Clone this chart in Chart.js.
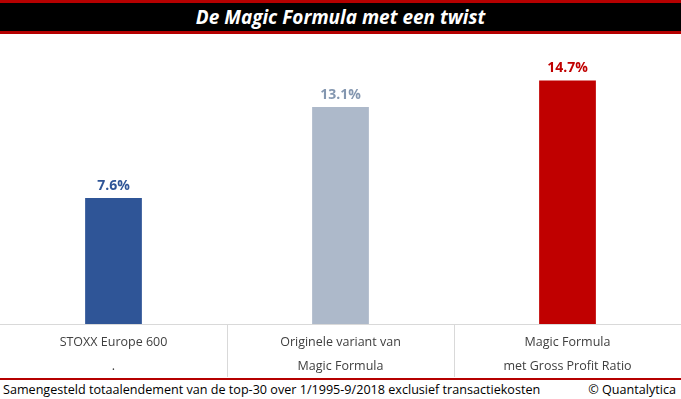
<!DOCTYPE html>
<html>
<head>
<meta charset="utf-8">
<script src="https://cdn.jsdelivr.net/npm/chart.js@4"></script>
<style>
  body { margin: 0; width: 681px; height: 399px; background: #fff; overflow: hidden; font-family: "Open Sans", sans-serif; }
  #title { position: absolute; left: 0; top: 0; width: 681px; height: 28px; background: #000;
           border-top: 3px solid #b50000; border-bottom: 3px solid #b50000;
           color: #fff; font: italic bold 19px "Open Sans", sans-serif; text-align: center; line-height: 28px; }
  #wrap { position: absolute; left: 0; top: 34px; width: 681px; height: 344px; }
  #footer { position: absolute; left: 0; top: 378px; width: 681px; height: 21px; border-top: 2px solid #b50000;
            font-size: 12.6px; color: #000; }
  #footer .l { position: absolute; left: 3px; top: 1px; }
  #footer .r { position: absolute; right: 5px; top: 1px; }
</style>
</head>
<body>
<div id="title">De Magic Formula met een twist</div>
<div id="wrap"><canvas id="myChart"></canvas></div>
<div id="footer"><span class="l">Samengesteld totaalendement van de top-30 over 1/1995-9/2018 exclusief transactiekosten</span><span class="r">© Quantalytica</span></div>
<script>
const categories = [
  ['STOXX Europe 600', '.'],
  ['Originele variant van', 'Magic Formula'],
  ['Magic Formula', 'met Gross Profit Ratio']
];
const returns = [7.6, 13.1, 14.7];
const barColors = ['#2f5597', '#adb9ca', '#c00000'];
const labelColors = ['#2f5597', '#8497b0', '#c00000'];

// value labels above the bars
const valueLabels = {
  id: 'valueLabels',
  afterDatasetsDraw(chart) {
    const c = chart.ctx;
    const meta = chart.getDatasetMeta(0);
    c.save();
    c.font = 'bold 14px "Open Sans", sans-serif';
    c.textAlign = 'center';
    c.textBaseline = 'bottom';
    meta.data.forEach((bar, i) => {
      c.fillStyle = labelColors[i];
      c.fillText(returns[i].toFixed(1) + '%', bar.x, bar.y - 5);
    });
    c.restore();
  }
};

const ctx = document.getElementById('myChart').getContext('2d');
new Chart(ctx, {
  type: 'bar',
  data: {
    labels: categories,
    datasets: [{
      data: returns,
      backgroundColor: barColors,
      barPercentage: 0.25,
      categoryPercentage: 1
    }]
  },
  options: {
    responsive: true,
    maintainAspectRatio: false,
    animation: false,
    layout: { padding: 0 },
    plugins: { legend: { display: false }, tooltip: { enabled: false } },
    scales: {
      y: { display: false, min: 0, max: 17.5 },
      x: {
        afterFit: scale => { scale.height = 54; },
        border: { color: '#d9d9d9' },
        grid: {
          offset: true,
          drawOnChartArea: false,
          tickLength: 53,
          color: c => (c.index > 0 && c.index < categories.length) ? '#d9d9d9' : 'rgba(0,0,0,0)'
        },
        ticks: {
          padding: -46,
          color: '#404040',
          font: { family: '"Open Sans", sans-serif', size: 12.5, lineHeight: 1.9 }
        }
      }
    }
  },
  plugins: [valueLabels]
});
</script>
</body>
</html>
